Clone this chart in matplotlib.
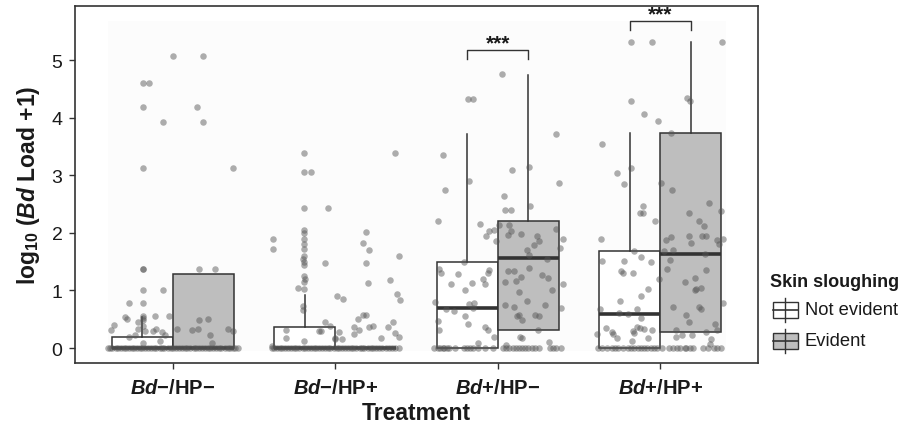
import matplotlib
matplotlib.use('Agg')
import matplotlib.pyplot as plt
from matplotlib.patches import Rectangle
from matplotlib.lines import Line2D

plt.rcParams['font.family'] = ['Liberation Sans', 'DejaVu Sans']
plt.rcParams['mathtext.fontset'] = 'custom'
plt.rcParams['mathtext.rm'] = 'Liberation Sans:bold'
plt.rcParams['mathtext.it'] = 'Liberation Sans:bold:italic'
plt.rcParams['mathtext.bf'] = 'Liberation Sans:bold'

# treatments (x categories)
treatments = [r'$\mathit{Bd}$−/HP−', r'$\mathit{Bd}$−/HP+', r'$\mathit{Bd}$+/HP−', r'$\mathit{Bd}$+/HP+']
groups = ['Not evident', 'Evident']

# box stats per treatment: q1, median, q3, upper whisker (lower whisker = q1)
not_q1 = [0, 0, 0, 0]
not_med = [0, 0, 0.69, 0.59]
not_q3 = [0.19, 0.37, 1.49, 1.68]
not_hi = [0.54, 0.92, 3.72, 3.73]

ev_q1 = [0, 0, 0.32, 0.27]
ev_med = [0, 0, 1.56, 1.63]
ev_q3 = [1.28, 0, 2.20, 3.74]
ev_hi = [1.28, 0, 4.75, 5.32]

# jittered points: (offset from treatment centre, log10 load)
pts1 = [(0.0, 5.07), (0.19, 5.07), (-0.18, 4.6), (-0.145, 4.6), (-0.18, 4.19), (0.15, 4.19),
        (-0.06, 3.93), (0.19, 3.93), (-0.18, 3.12), (0.37, 3.12), (-0.18, 1.37), (-0.18, 1.37),
        (0.16, 1.37), (0.26, 1.37), (-0.18, 1.01), (-0.06, 1.01), (-0.27, 0.79), (-0.18, 0.79),
        (-0.29, 0.54), (-0.28, 0.50), (-0.18, 0.55), (-0.18, 0.52), (-0.18, 0.48), (-0.11, 0.56),
        (-0.02, 0.55), (0.16, 0.49), (0.22, 0.51), (-0.36, 0.40), (-0.38, 0.31), (-0.21, 0.46),
        (-0.21, 0.33), (-0.18, 0.38), (-0.17, 0.30), (-0.10, 0.33), (-0.12, 0.30), (-0.065, 0.27),
        (-0.045, 0.23), (-0.08, 0.12), (-0.18, 0.08), (-0.27, 0.20), (-0.23, 0.22), (0.03, 0.33),
        (0.12, 0.31), (0.155, 0.33), (0.23, 0.22), (0.34, 0.33), (0.37, 0.29), (0.24, 0.08)]
pts2 = [(-0.19, 3.39), (0.37, 3.39), (-0.19, 3.05), (-0.15, 3.05), (-0.19, 2.43), (-0.045, 2.43),
        (-0.38, 1.90), (-0.385, 1.72), (-0.19, 2.05), (-0.19, 2.0), (-0.19, 1.9), (-0.19, 1.8),
        (-0.19, 1.72), (-0.19, 1.6), (-0.195, 1.55), (-0.19, 1.5), (-0.19, 1.45), (-0.19, 1.25),
        (-0.185, 1.2), (-0.19, 1.15), (-0.19, 1.03), (-0.23, 1.04), (-0.06, 1.47), (0.19, 2.02),
        (0.17, 1.83), (0.21, 1.70), (0.19, 1.47), (0.20, 1.13), (0.39, 1.59), (0.34, 1.19),
        (0.38, 0.93), (0.40, 0.84), (0.01, 0.91), (0.05, 0.85), (-0.20, 0.73), (-0.20, 0.66),
        (-0.06, 0.46), (-0.03, 0.39), (-0.30, 0.31), (-0.30, 0.18), (-0.19, 0.13), (-0.10, 0.29),
        (-0.09, 0.30), (0.025, 0.28), (0.0, 0.18), (0.0, 0.16), (0.04, 0.15), (0.14, 0.50),
        (0.17, 0.57), (0.19, 0.57), (0.115, 0.36), (0.145, 0.31), (0.115, 0.24), (0.21, 0.37),
        (0.23, 0.39), (0.28, 0.17), (0.325, 0.37), (0.355, 0.46), (0.365, 0.26), (0.39, 0.20),
        (-0.39, 0.04)]
pts3 = [(0.027, 4.76), (-0.186, 4.32), (-0.155, 4.32), (-0.34, 3.36), (0.09, 3.10), (0.19, 3.15),
        (0.356, 3.72), (-0.18, 2.90), (-0.325, 2.75), (0.374, 2.86), (0.035, 2.64), (0.047, 2.40),
        (0.082, 2.39), (0.198, 2.47), (-0.37, 2.21), (-0.11, 2.16), (-0.07, 1.94), (-0.055, 2.03),
        (-0.025, 2.05), (-0.01, 1.86), (0.01, 2.14), (0.07, 2.14), (0.08, 2.04), (0.06, 1.96),
        (0.14, 1.98), (0.24, 1.95), (0.255, 1.86), (0.22, 1.79), (0.36, 2.06), (0.40, 1.90),
        (0.385, 1.74), (0.18, 1.70), (0.19, 1.61), (0.30, 1.55), (-0.21, 1.50), (-0.36, 1.38),
        (-0.35, 1.30), (-0.245, 1.29), (-0.055, 1.36), (-0.06, 1.31), (-0.16, 1.13), (-0.094, 1.20),
        (-0.08, 1.12), (-0.29, 1.11), (-0.20, 1.00), (0.065, 1.34), (0.10, 1.34), (0.047, 1.15),
        (0.11, 1.17), (0.145, 1.24), (0.19, 1.39), (0.27, 1.26), (0.31, 1.22), (0.40, 1.12),
        (0.335, 1.01), (0.13, 0.98), (0.18, 0.82), (0.047, 0.75), (0.10, 0.72), (0.29, 0.75),
        (0.387, 0.69), (-0.18, 0.76), (-0.145, 0.78), (-0.155, 0.69), (-0.386, 0.80), (-0.32, 0.67),
        (-0.27, 0.65), (-0.20, 0.56), (-0.37, 0.47), (-0.186, 0.42), (-0.36, 0.32), (-0.076, 0.36),
        (-0.06, 0.32), (-0.025, 0.19), (-0.12, 0.09), (0.117, 0.56), (0.13, 0.57), (0.15, 0.48),
        (0.227, 0.58), (0.254, 0.56), (0.25, 0.32), (0.135, 0.20), (0.15, 0.17), (0.317, 0.11),
        (0.053, 0.05)]
pts4 = [(-0.184, 5.32), (-0.053, 5.32), (0.378, 5.32), (-0.184, 4.29), (0.166, 4.34), (0.182, 4.29),
        (-0.104, 4.06), (-0.012, 3.94), (0.067, 3.74), (-0.36, 3.55), (-0.184, 3.13), (-0.264, 3.04),
        (-0.227, 2.85), (0.006, 2.86), (0.074, 2.74), (-0.106, 2.47), (-0.125, 2.35), (-0.106, 2.34),
        (-0.033, 2.20), (0.174, 2.35), (0.297, 2.52), (0.37, 2.38), (0.24, 2.20), (0.27, 2.12),
        (-0.366, 1.90), (0.037, 1.87), (0.065, 1.93), (0.178, 1.95), (0.188, 1.83), (0.258, 1.94),
        (0.28, 1.94), (0.35, 1.88), (0.386, 1.89), (0.36, 1.81), (0.02, 1.68), (0.076, 1.71),
        (-0.16, 1.69), (-0.362, 1.52), (-0.227, 1.52), (-0.117, 1.58), (-0.06, 1.50), (0.057, 1.53),
        (0.274, 1.64), (0.043, 1.38), (-0.245, 1.34), (-0.229, 1.30), (-0.166, 1.31), (-0.008, 1.20),
        (0.282, 1.36), (0.215, 1.22), (0.15, 1.14), (-0.078, 1.03), (0.22, 1.02), (0.21, 1.00),
        (0.25, 1.04), (-0.117, 0.90), (-0.247, 0.82), (-0.374, 0.68), (-0.147, 0.68), (-0.255, 0.60),
        (-0.198, 0.59), (-0.119, 0.53), (0.08, 0.71), (0.235, 0.71), (0.252, 0.67), (0.382, 0.79),
        (0.16, 0.58), (0.176, 0.46), (0.333, 0.42), (0.346, 0.31), (-0.393, 0.25), (-0.337, 0.34),
        (-0.297, 0.28), (-0.29, 0.24), (-0.27, 0.17), (-0.17, 0.30), (-0.147, 0.37), (-0.125, 0.34),
        (-0.16, 0.26), (-0.10, 0.33), (-0.078, 0.18), (-0.053, 0.32), (-0.174, 0.13), (0.094, 0.31),
        (0.13, 0.23), (0.094, 0.19), (0.282, 0.27), (0.31, 0.16), (0.305, 0.07), (0.194, 0.23)]

# offsets of animals with zero load
zero1 = [-0.40, -0.385, -0.37, -0.35, -0.335, -0.32, -0.30, -0.285, -0.27, -0.25, -0.235, -0.22,
         -0.20, -0.185, -0.17, -0.15, -0.13, -0.115, -0.10, -0.08, -0.065, -0.05, -0.03, -0.01,
         0.005, 0.02, 0.04, 0.06, 0.075, 0.09, 0.11, 0.13, 0.145, 0.16, 0.18, 0.20, 0.215, 0.23,
         0.25, 0.27, 0.285, 0.30, 0.32, 0.34, 0.355, 0.37, 0.385, 0.40]
zero2 = [-0.39, -0.375, -0.36, -0.34, -0.325, -0.31, -0.29, -0.27, -0.255, -0.24, -0.22, -0.20,
         -0.185, -0.17, -0.15, -0.13, -0.115, -0.10, -0.08, -0.06, -0.045, -0.03, -0.01, 0.01,
         0.025, 0.04, 0.06, 0.08, 0.095, 0.11, 0.13, 0.15, 0.165, 0.18, 0.20, 0.22, 0.235, 0.25,
         0.27, 0.29, 0.31, 0.33, 0.35, 0.37, 0.39]
zero3 = [-0.39, -0.37, -0.355, -0.34, -0.33, -0.315, -0.30, -0.264, -0.21, -0.19, -0.17, -0.15,
         -0.12, -0.076, -0.03, 0.03, 0.05, 0.07, 0.095, 0.11, 0.13, 0.15, 0.17, 0.185, 0.21, 0.23,
         0.255, 0.32, 0.34, 0.36, 0.39]
zero4 = [-0.386, -0.36, -0.33, -0.30, -0.28, -0.26, -0.23, -0.20, -0.18, -0.16, -0.14, -0.12,
         -0.10, -0.08, -0.06, -0.04, -0.02, 0.01, 0.05, 0.08, 0.10, 0.12, 0.15, 0.16, 0.18, 0.20,
         0.26, 0.29, 0.33, 0.35, 0.37]

# significance brackets: treatment index, bracket height, label
sig_idx = [2, 3]
sig_y = [5.18, 5.68]
sig_lab = ['***', '***']

points = [pts1, pts2, pts3, pts4]
zeros = [zero1, zero2, zero3, zero4]

dark = '#333333'
txt = '#1a1a1a'
fig = plt.figure(figsize=(9.04, 4.31), dpi=100)
ax = fig.add_axes([75 / 904, 1 - 364 / 431, 683 / 904, 357 / 431])

# faint panel behind the data
ax.add_patch(Rectangle((-0.4, -0.05), 3.805, 5.73, facecolor='#fcfcfc', edgecolor='none', zorder=0))

bw = 0.375
for cols, fill, shift in [((not_q1, not_med, not_q3, not_hi), 'white', -bw / 2),
                          ((ev_q1, ev_med, ev_q3, ev_hi), '#bebebe', bw / 2)]:
    q1, med, q3, hi = cols
    stats = [dict(q1=q1[i], med=med[i], q3=q3[i], whislo=q1[i], whishi=hi[i], fliers=[])
             for i in range(len(treatments))]
    ax.bxp(stats, positions=[i + shift for i in range(len(treatments))], widths=bw,
           patch_artist=True, showfliers=False, showcaps=False, manage_ticks=False,
           boxprops=dict(facecolor=fill, edgecolor=dark, linewidth=1.1),
           whiskerprops=dict(color=dark, linewidth=1.1),
           medianprops=dict(color=dark, linewidth=2.6, solid_capstyle='butt'),
           zorder=2)

for i in range(len(treatments)):
    xs = [i + o for o, v in points[i]] + [i + o for o in zeros[i]]
    ys = [v for o, v in points[i]] + [0 for o in zeros[i]]
    ax.scatter(xs, ys, s=22, color='#555555', alpha=0.48, linewidths=0, zorder=3)

for i, yb, lab in zip(sig_idx, sig_y, sig_lab):
    x0, x1 = i - bw / 2, i + bw / 2
    ax.plot([x0, x0, x1, x1], [yb - 0.16, yb, yb, yb - 0.16], color=dark, lw=1.0, zorder=4)
    ax.text(i, yb + 0.03, lab, ha='center', va='baseline', fontsize=15, fontweight='bold',
            color=txt)

ax.set_xlim(-0.6, 3.6)
ax.set_ylim(-0.26, 5.94)
ax.set_xticks(range(len(treatments)))
ax.set_xticklabels(treatments, fontsize=14.5, fontweight='bold', color=txt)
ax.set_yticks([0, 1, 2, 3, 4, 5])
ax.set_yticklabels(['0', '1', '2', '3', '4', '5'], fontsize=14, color=txt)
ax.tick_params(axis='x', length=4, width=1, color=dark, pad=7)
ax.tick_params(axis='y', length=4, width=1, color=dark, pad=5)
for sp in ax.spines.values():
    sp.set_color(dark)
    sp.set_linewidth(1.2)
ax.set_xlabel('Treatment', fontsize=16.5, fontweight='bold', color=txt, labelpad=3)
ax.set_ylabel(r'log$_{10}$ ($\mathit{Bd}$ Load +1)', fontsize=16.5, fontweight='bold',
              color=txt, labelpad=7)

# legend drawn by hand to get the boxplot keys
fig.text(770 / 904, 1 - 283 / 431, 'Skin sloughing', fontsize=13, fontweight='bold',
         va='center', ha='left', color=txt)
for yc, fill, lab in [(311, 'white', groups[0]), (342, '#bebebe', groups[1])]:
    fig.add_artist(Line2D([785.5 / 904, 785.5 / 904], [1 - (yc - 12) / 431, 1 - (yc + 12) / 431],
                          color=dark, lw=1.0, transform=fig.transFigure))
    fig.add_artist(Rectangle((773 / 904, 1 - (yc + 8) / 431), 25 / 904, 16 / 431,
                             facecolor=fill, edgecolor=dark, lw=1.0, transform=fig.transFigure))
    fig.add_artist(Line2D([773 / 904, 798 / 904], [1 - yc / 431, 1 - yc / 431],
                          color=dark, lw=1.2, transform=fig.transFigure))
    fig.text(805 / 904, 1 - yc / 431, lab, fontsize=13.2, va='center', ha='left', color=txt)

fig.savefig('out.png', dpi=100)
